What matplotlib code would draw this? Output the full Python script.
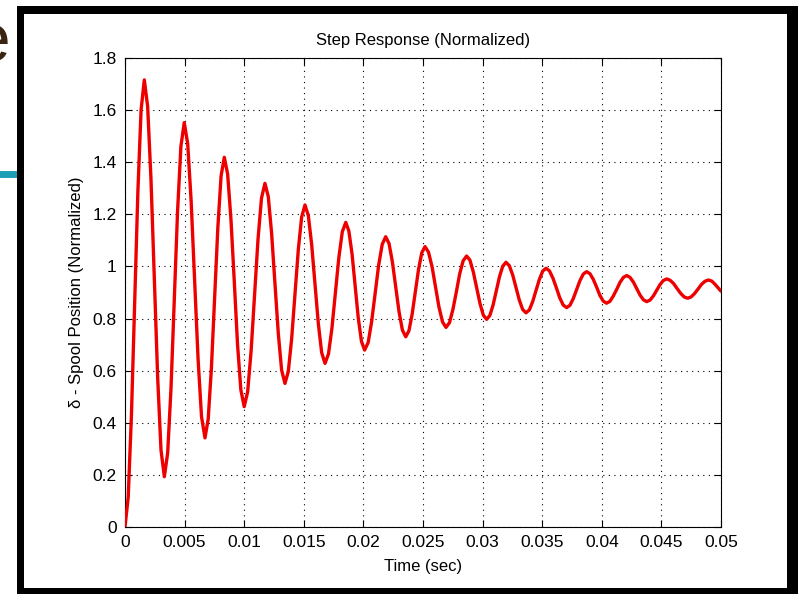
import matplotlib
matplotlib.use("Agg")
import matplotlib.pyplot as plt
from matplotlib.patches import Rectangle
from matplotlib.lines import Line2D

plt.rcParams['font.family'] = ['Liberation Sans', 'DejaVu Sans']

# Time in milliseconds (converted to seconds below) and values
time_ms = [
    0.00, 0.27, 0.54, 0.81, 1.08, 1.35,
    1.62, 1.90, 2.18, 2.46, 2.74, 3.02,
    3.30, 3.58, 3.86, 4.14, 4.41, 4.69,
    4.97, 5.26, 5.55, 5.84, 6.13, 6.42,
    6.71, 6.98, 7.25, 7.52, 7.79, 8.06,
    8.33, 8.61, 8.89, 9.17, 9.44, 9.72,
    10.00, 10.29, 10.58, 10.87, 11.16, 11.45,
    11.74, 12.02, 12.30, 12.58, 12.86, 13.14,
    13.42, 13.70, 13.98, 14.26, 14.54, 14.82,
    15.10, 15.38, 15.66, 15.94, 16.22, 16.50,
    16.78, 17.07, 17.36, 17.65, 17.94, 18.23,
    18.52, 18.78, 19.05, 19.31, 19.57, 19.84,
    20.10, 20.40, 20.69, 20.99, 21.28, 21.58,
    21.87, 22.15, 22.43, 22.71, 22.99, 23.27,
    23.55, 23.82, 24.09, 24.36, 24.63, 24.90,
    25.17, 25.46, 25.76, 26.05, 26.34, 26.64,
    26.93, 27.22, 27.51, 27.80, 28.08, 28.37,
    28.66, 28.94, 29.22, 29.50, 29.78, 30.06,
    30.34, 30.61, 30.88, 31.15, 31.42, 31.69,
    31.96, 32.24, 32.52, 32.80, 33.08, 33.36,
    33.64, 33.92, 34.20, 34.48, 34.76, 35.04,
    35.32, 35.61, 35.90, 36.19, 36.47, 36.76,
    37.05, 37.33, 37.61, 37.89, 38.17, 38.45,
    38.73, 39.01, 39.29, 39.57, 39.84, 40.12,
    40.40, 40.68, 40.96, 41.25, 41.53, 41.81,
    42.09, 42.37, 42.65, 42.93, 43.21, 43.49,
    43.77, 44.05, 44.33, 44.61, 44.88, 45.16,
    45.44, 45.73, 46.03, 46.32, 46.61, 46.91,
    47.20, 47.49, 47.78, 48.07, 48.36, 48.65,
    48.94, 49.22, 49.49, 49.77, 50.00,
]
spool_position = [
    0.000, 0.115, 0.429, 0.858, 1.287, 1.601,
    1.716, 1.614, 1.335, 0.954, 0.574, 0.295,
    0.193, 0.284, 0.533, 0.873, 1.212, 1.461,
    1.552, 1.471, 1.250, 0.947, 0.645, 0.423,
    0.342, 0.414, 0.611, 0.881, 1.150, 1.347,
    1.419, 1.355, 1.180, 0.941, 0.701, 0.526,
    0.462, 0.519, 0.676, 0.891, 1.105, 1.262,
    1.319, 1.268, 1.127, 0.935, 0.743, 0.602,
    0.551, 0.597, 0.722, 0.894, 1.065, 1.190,
    1.236, 1.195, 1.084, 0.932, 0.780, 0.669,
    0.628, 0.664, 0.763, 0.899, 1.034, 1.133,
    1.169, 1.136, 1.047, 0.924, 0.802, 0.712,
    0.679, 0.708, 0.788, 0.897, 1.005, 1.085,
    1.114, 1.088, 1.018, 0.922, 0.826, 0.756,
    0.730, 0.753, 0.817, 0.903, 0.990, 1.053,
    1.076, 1.055, 0.999, 0.921, 0.844, 0.787,
    0.766, 0.784, 0.835, 0.903, 0.972, 1.022,
    1.040, 1.024, 0.979, 0.919, 0.858, 0.813,
    0.797, 0.812, 0.852, 0.907, 0.961, 1.001,
    1.016, 1.003, 0.968, 0.919, 0.871, 0.835,
    0.822, 0.833, 0.865, 0.908, 0.950, 0.982,
    0.993, 0.983, 0.955, 0.918, 0.880, 0.852,
    0.842, 0.851, 0.877, 0.911, 0.946, 0.971,
    0.980, 0.972, 0.950, 0.920, 0.889, 0.867,
    0.859, 0.866, 0.886, 0.912, 0.939, 0.958,
    0.965, 0.958, 0.940, 0.915, 0.890, 0.872,
    0.865, 0.871, 0.887, 0.909, 0.930, 0.946,
    0.952, 0.947, 0.934, 0.915, 0.897, 0.883,
    0.878, 0.883, 0.896, 0.913, 0.931, 0.943,
    0.948, 0.944, 0.932, 0.917, 0.905,
]
time_s = [t / 1000.0 for t in time_ms]

x_ticks = [0, 0.005, 0.01, 0.015, 0.02, 0.025, 0.03, 0.035, 0.04, 0.045, 0.05]
x_tick_labels = ["0", "0.005", "0.01", "0.015", "0.02", "0.025", "0.03",
                 "0.035", "0.04", "0.045", "0.05"]
y_ticks = [0, 0.2, 0.4, 0.6, 0.8, 1.0, 1.2, 1.4, 1.6, 1.8]
y_tick_labels = ["0", "0.2", "0.4", "0.6", "0.8", "1", "1.2", "1.4", "1.6", "1.8"]

W, H = 798, 594
fig = plt.figure(figsize=(W / 100, H / 100), dpi=100)
fig.patch.set_facecolor('white')

def px_rect(x0, y0, x1, y1, **kw):
    return Rectangle((x0 / W, 1 - y1 / H), (x1 - x0) / W, (y1 - y0) / H,
                     transform=fig.transFigure, **kw)

# background slide decorations
fig.text(-28 / W, 1 - 62 / H, "e", fontsize=50, color='#3a2412',
         family='Liberation Sans', ha='left', va='baseline', zorder=-5)
fig.add_artist(Line2D([0, 17 / W], [1 - 174 / H, 1 - 174 / H],
                      color='#1c9fb6', lw=5, transform=fig.transFigure, zorder=-5))
# black frame of screenshot
fig.add_artist(px_rect(17, 6, 800, 600, facecolor='black', edgecolor='none', zorder=-3))
fig.add_artist(px_rect(24, 14, 787, 588, facecolor='white', edgecolor='none', zorder=-2))

ax = fig.add_axes([125 / W, 1 - 527 / H, (721 - 125) / W, (527 - 58) / H])
ax.set_facecolor('white')
ax.plot(time_s, spool_position, color='#ee0000', lw=2.4, solid_joinstyle='round',
        solid_capstyle='round', zorder=3)

ax.set_xlim(0, 0.05)
ax.set_ylim(0, 1.8)
ax.set_xticks(x_ticks)
ax.set_xticklabels(x_tick_labels)
ax.set_yticks(y_ticks)
ax.set_yticklabels(y_tick_labels)
ax.tick_params(direction='in', length=5, width=0.8, top=True, right=True,
               labelsize=12.5, colors='black', pad=6)
ax.grid(True, color='black', linestyle=(0, (1, 4)), linewidth=0.8)
for s in ax.spines.values():
    s.set_linewidth(0.8)
    s.set_color('black')

ax.set_title("Step Response (Normalized)", fontsize=12, pad=9)
ax.set_xlabel("Time (sec)", fontsize=12, labelpad=6)
ax.set_ylabel("δ - Spool Position (Normalized)", fontsize=12, labelpad=6)

fig.savefig("out.png", dpi=100, facecolor='white')
